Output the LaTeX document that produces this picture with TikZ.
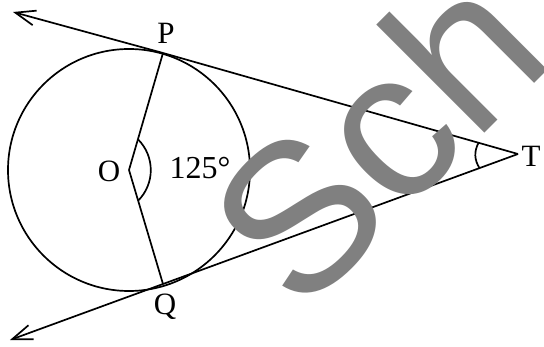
\documentclass[tikz,border=0pt]{standalone}
\usepackage{fontspec}
\setmainfont{Liberation Serif}
\newfontfamily\wmfont{Liberation Sans}
\usetikzlibrary{arrows.meta,calc}
\definecolor{wmgray}{RGB}{128,128,128}
\begin{document}
\begin{tikzpicture}[x=1pt,y=1pt,
  geo/.style={line width=1.7pt, line join=round},
  tang/.style={geo, -{Straight Barb[length=20pt,width=15pt]}},
  lbl/.style={inner sep=0pt, font=\fontsize{31}{31}\selectfont},
  wm/.style={inner sep=0pt, text=wmgray, rotate=45, anchor=base west, font=\wmfont\fontsize{211}{211}\selectfont}]
\useasboundingbox (0,0) rectangle (544,-347);
\coordinate (O) at (129,-170);
\coordinate (P) at (163,-53);
\coordinate (Q) at (163,-284);
\coordinate (T) at (518,-154);
\coordinate (A) at (13,-12);
\coordinate (B) at (10,-340);
\draw[geo] (O) circle[radius=121];
\draw[geo] (P) -- (O) -- (Q);
\draw[tang] (T) -- (P) -- (A);
\draw[tang] (T) -- (Q) -- (B);
\draw[geo] ($(O)!32pt!(P)$) to[bend left=45] ($(O)!32pt!(Q)$);
\draw[geo] ($(T)!41pt!(P)$) to[bend right=30] ($(T)!41pt!(Q)$);
\node[lbl] (Pl) at (166,-33) {P};
\node[lbl] (Ol) at (109,-171) {O};
\node[lbl, font=\fontsize{32}{32}\selectfont] (ang) at (200,-168) {125°};
\node[lbl] (Ql) at (165,-307) {Q};
\node[lbl] (Tl) at (531,-156) {T};
\begin{scope}
\clip (0,0) rectangle (544,-347);
\node[wm] (wm) at (300,-318) {Sch};
\end{scope}
\end{tikzpicture}
\end{document}
